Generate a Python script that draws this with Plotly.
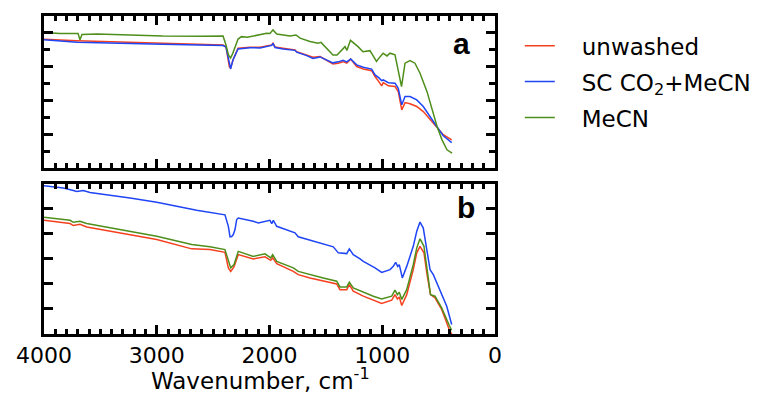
import plotly.graph_objects as go

# ---------------- Panel a ----------------
wn_a_mecn = [4000, 3858, 3698, 3681, 3663, 3530, 3237, 2945, 2616, 2412, 2386, 2364,
             2345, 2324, 2279, 2248, 2199, 2084, 2025, 1996, 1969, 1936, 1818, 1765,
             1729, 1641, 1570, 1543, 1508, 1437, 1401, 1348, 1330, 1313, 1282, 1215,
             1171, 1109, 1051, 1029, 993, 958, 931, 887, 860, 829, 798, 754, 710, 665,
             603, 559, 514, 470, 426, 381]
a_mecn = [8.02, 7.97, 7.97, 7.59, 7.91, 7.94, 7.88, 7.82, 7.81, 7.82, 7.29, 6.70,
          6.52, 6.82, 7.64, 7.78, 7.74, 7.88, 7.98, 7.97, 8.18, 7.94, 7.82, 7.88,
          7.69, 7.49, 7.39, 7.44, 7.19, 6.70, 6.70, 7.10, 7.19, 6.97, 7.56, 7.19,
          6.89, 6.95, 6.32, 6.51, 6.80, 6.64, 6.80, 6.70, 5.81, 4.83, 6.21, 6.36,
          6.21, 5.62, 4.53, 3.55, 2.47, 1.68, 1.09, 0.89]

wn_a = [4000, 3707, 2945, 2412, 2386, 2356, 2345, 2324, 2279, 2173, 2084, 1980,
        1969, 1951, 1880, 1774, 1759, 1670, 1614, 1552, 1493, 1437, 1392, 1348,
        1315, 1280, 1227, 1168, 1094, 1064, 1029, 1005, 991, 946, 887, 858, 827,
        798, 754, 694, 636, 576, 517, 459, 384]
a_unwashed = [7.63, 7.54, 7.39, 7.29, 7.19, 5.99, 5.92, 6.40, 7.10, 7.16, 7.15, 7.29,
              7.39, 7.17, 7.10, 7.00, 6.89, 6.70, 6.56, 6.60, 6.40, 6.17, 6.21, 6.30,
              6.21, 6.45, 6.01, 5.87, 5.77, 5.42, 5.11, 4.87, 5.06, 4.87, 4.83, 4.53,
              3.45, 3.88, 3.81, 3.65, 3.35, 2.90, 2.47, 1.98, 1.68]
a_sc = [7.59, 7.45, 7.33, 7.25, 7.17, 6.05, 5.88, 6.40, 7.05, 7.13, 7.11, 7.26,
        7.38, 7.14, 7.05, 6.97, 6.86, 6.66, 6.49, 6.58, 6.38, 6.23, 6.29, 6.38,
        6.29, 6.46, 6.11, 5.97, 5.86, 5.52, 5.34, 5.18, 5.22, 5.06, 5.03, 4.73,
        3.75, 4.24, 4.24, 4.04, 3.65, 3.02, 2.47, 1.92, 1.52]

# ---------------- Panel b ----------------
wn_b_sc = [4000, 3829, 3740, 3710, 3651, 3592, 3237, 3000, 2646, 2528, 2395, 2365,
           2350, 2335, 2321, 2306, 2291, 2277, 2232, 2144, 2099, 2040, 1996, 1980,
           1966, 1936, 1847, 1774, 1745, 1641, 1523, 1434, 1390, 1315, 1292, 1257,
           1197, 1168, 1064, 1005, 931, 902, 881, 863, 849, 822, 783, 725, 694, 665,
           636, 606, 576, 547, 488, 428, 384]
b_sc = [5.92, 5.83, 5.73, 5.69, 5.73, 5.65, 5.43, 5.26, 4.94, 4.86, 4.76, 4.30,
        3.88, 3.89, 3.97, 4.17, 4.57, 4.63, 4.59, 4.50, 4.43, 4.50, 4.54, 4.41,
        4.54, 4.30, 4.17, 4.04, 3.88, 3.74, 3.61, 3.48, 3.24, 3.21, 3.40, 3.17,
        3.00, 2.90, 2.64, 2.46, 2.57, 2.70, 2.86, 2.70, 2.77, 2.24, 2.70, 3.50,
        4.10, 4.47, 4.23, 3.37, 2.57, 2.37, 1.77, 1.11, 0.38]

wn_b = [4000, 3769, 3740, 3681, 3621, 3237, 3000, 2690, 2528, 2395, 2365, 2344,
        2315, 2277, 2144, 2040, 1989, 1972, 1936, 1789, 1745, 1641, 1523, 1404,
        1375, 1315, 1292, 1257, 1168, 1079, 1005, 916, 887, 866, 849, 827, 783,
        725, 694, 665, 630, 600, 572, 532, 473, 406, 384]
b_mecn = [4.66, 4.54, 4.46, 4.50, 4.41, 4.10, 3.90, 3.57, 3.48, 3.37, 2.90, 2.64,
          2.77, 3.30, 3.10, 3.20, 3.04, 3.17, 2.90, 2.64, 2.50, 2.37, 2.24, 2.11,
          1.88, 1.88, 2.07, 1.84, 1.67, 1.51, 1.40, 1.51, 1.75, 1.57, 1.67, 1.38,
          1.77, 2.77, 3.44, 3.80, 3.50, 2.57, 1.57, 1.51, 1.04, 0.35, 0.15]
b_unwashed = [4.54, 4.41, 4.33, 4.38, 4.27, 3.97, 3.77, 3.40, 3.37, 3.26, 2.64, 2.50,
              2.68, 3.17, 3.00, 3.08, 2.94, 3.04, 2.81, 2.50, 2.37, 2.24, 2.11, 2.00,
              1.77, 1.77, 1.97, 1.71, 1.51, 1.35, 1.22, 1.35, 1.57, 1.40, 1.48, 1.14,
              1.57, 2.57, 3.24, 3.50, 3.24, 2.30, 1.57, 1.44, 0.98, 0.18, 0.0]

series_names = ["unwashed", "SC CO<sub>2</sub>+MeCN", "MeCN"]
colors = ["#f5401f", "#1f45f5", "#4e8f1c"]
x_title = "Wavenumber, cm<sup>-1</sup>"

FONT = "DejaVu Sans, Liberation Sans, Arial, sans-serif"
BOLD_FONT = "Liberation Sans, Arial, Helvetica, sans-serif"
PAD = "\u00a0\u00a0\u00a0"  # gap between legend sample line and its label

fig = go.Figure()

panel_a = [(wn_a, a_unwashed), (wn_a, a_sc), (wn_a_mecn, a_mecn)]
panel_b = [(wn_b, b_unwashed), (wn_b_sc, b_sc), (wn_b, b_mecn)]

for i, (x, y) in enumerate(panel_a):
    fig.add_trace(go.Scatter(x=x, y=y, mode="lines", name=PAD + series_names[i],
                             line=dict(color=colors[i], width=1.5),
                             legendgroup=f"g{i}", xaxis="x", yaxis="y"))
for i, (x, y) in enumerate(panel_b):
    fig.add_trace(go.Scatter(x=x, y=y, mode="lines", name=PAD + series_names[i],
                             line=dict(color=colors[i], width=1.5),
                             legendgroup=f"g{i}", showlegend=False,
                             xaxis="x2", yaxis="y2"))

xcommon = dict(range=[4000, 0], showline=True, linewidth=3, linecolor="black",
               mirror="allticks", ticks="inside", ticklen=9, tickwidth=2.5,
               tickcolor="black", dtick=1000, tick0=0, showgrid=False, zeroline=False,
               minor=dict(ticks="inside", ticklen=5, tickwidth=2.5, dtick=100,
                          tickcolor="black", showgrid=False))
ycommon = dict(showline=True, linewidth=3, linecolor="black", mirror="allticks",
               ticks="inside", tickwidth=2.5, tickcolor="black", showgrid=False,
               zeroline=False, showticklabels=False)

fig.update_layout(
    width=769, height=412,
    margin=dict(l=44, r=274, t=16, b=77.5, autoexpand=False),
    paper_bgcolor="white", plot_bgcolor="white",
    font=dict(family=FONT, size=22, color="black"),
    xaxis=dict(xcommon, anchor="y", showticklabels=False, matches="x2"),
    xaxis2=dict(xcommon, anchor="y2", showticklabels=True, tickfont=dict(size=22)),
    yaxis=dict(ycommon, domain=[0.5212, 1.0], range=[0, 9], dtick=2, tick0=0,
               ticklen=9,
               minor=dict(ticks="inside", ticklen=6, tickwidth=2.5, dtick=1,
                          tickcolor="black", showgrid=False)),
    yaxis2=dict(ycommon, domain=[0.0, 0.4725], range=[0, 6], dtick=1, tick0=0,
                ticklen=9),
    legend=dict(x=1.055, y=0.974, xanchor="left", yanchor="top",
                font=dict(size=23), tracegroupgap=3,
                bgcolor="rgba(0,0,0,0)"),
    showlegend=True,
)

# x-axis title
fig.add_annotation(text=x_title, x=0.48, y=-0.141, xref="x2 domain", yref="paper",
                   xanchor="center", yanchor="middle", showarrow=False,
                   font=dict(size=23, family=FONT))

# panel letters
fig.add_annotation(text="<b>a</b>", x=0.925, y=0.82, xref="x domain", yref="y domain",
                   xanchor="center", yanchor="middle", showarrow=False,
                   font=dict(size=30, family=BOLD_FONT))
fig.add_annotation(text="<b>b</b>", x=0.935, y=0.84, xref="x2 domain", yref="y2 domain",
                   xanchor="center", yanchor="middle", showarrow=False,
                   font=dict(size=30, family=BOLD_FONT))

fig.write_html("out.html")
